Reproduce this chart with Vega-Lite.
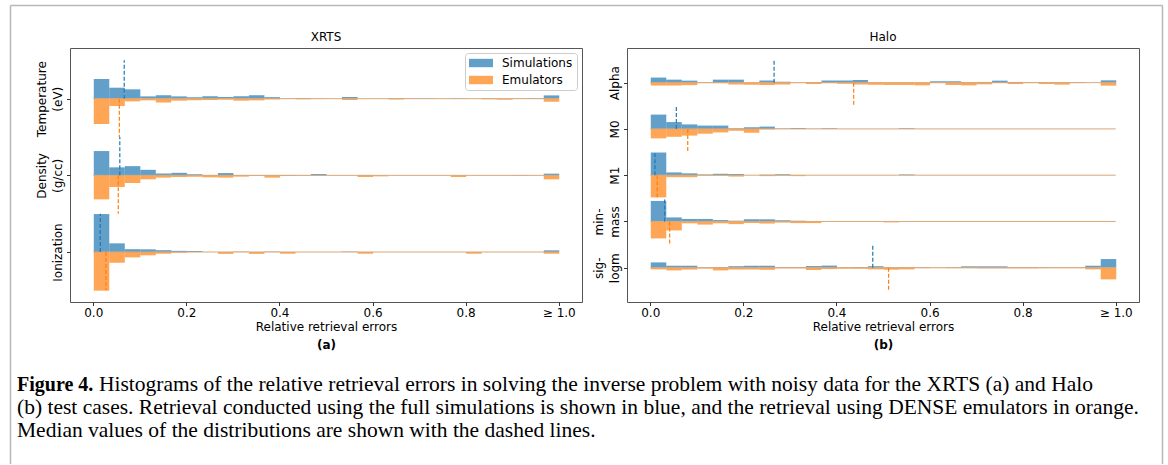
{
  "$schema": "https://vega.github.io/schema/vega-lite/v6.json",
  "background": "white",
  "padding": {"left": 9, "top": 5, "right": 0, "bottom": 0},
  "config": {
    "font": "DejaVu Sans",
    "view": {"stroke": "#555555", "strokeWidth": 1},
    "axis": {"grid": false, "domain": false, "tickColor": "#333333", "tickSize": 3.5, "tickWidth": 1, "labelFont": "DejaVu Sans", "labelFontSize": 12, "labelColor": "#000000", "titleFont": "DejaVu Sans", "titleFontSize": 12, "titleFontWeight": "normal", "titleColor": "#000000", "labelPadding": 2, "labelOverlap": false, "labelBound": false},
    "title": {"font": "DejaVu Sans", "fontSize": 12, "fontWeight": "normal", "color": "#000000", "offset": 4, "frame": "group"}
  },
  "datasets": {
    "xh": [
      {"p":"Temperature","b":0,"Simulations":0.257,"Emulators":0.33},
      {"p":"Temperature","b":0.0333,"Simulations":0.143,"Emulators":0.095},
      {"p":"Temperature","b":0.0667,"Simulations":0.122,"Emulators":0.035},
      {"p":"Temperature","b":0.1,"Simulations":0.03,"Emulators":0.022},
      {"p":"Temperature","b":0.1333,"Simulations":0.045,"Emulators":0.05},
      {"p":"Temperature","b":0.1667,"Simulations":0.03,"Emulators":0.026},
      {"p":"Temperature","b":0.2,"Simulations":0.02,"Emulators":0.022},
      {"p":"Temperature","b":0.2333,"Simulations":0.032,"Emulators":0.017},
      {"p":"Temperature","b":0.2667,"Simulations":0.022,"Emulators":0.013},
      {"p":"Temperature","b":0.3,"Simulations":0.032,"Emulators":0.026},
      {"p":"Temperature","b":0.3333,"Simulations":0.045,"Emulators":0.022},
      {"p":"Temperature","b":0.3667,"Simulations":0.02,"Emulators":0.01},
      {"p":"Temperature","b":0.4,"Simulations":0.005,"Emulators":0},
      {"p":"Temperature","b":0.4333,"Simulations":0.008,"Emulators":0.008},
      {"p":"Temperature","b":0.4667,"Simulations":0,"Emulators":0.005},
      {"p":"Temperature","b":0.5333,"Simulations":0.022,"Emulators":0.017},
      {"p":"Temperature","b":0.6333,"Simulations":0.008,"Emulators":0.01},
      {"p":"Temperature","b":0.6667,"Simulations":0.005,"Emulators":0},
      {"p":"Temperature","b":0.7,"Simulations":0.005,"Emulators":0},
      {"p":"Temperature","b":0.7667,"Simulations":0.005,"Emulators":0},
      {"p":"Temperature","b":0.8333,"Simulations":0.005,"Emulators":0.008},
      {"p":"Temperature","b":0.8667,"Simulations":0,"Emulators":0.013},
      {"p":"Temperature","b":0.9,"Simulations":0.005,"Emulators":0},
      {"p":"Temperature","b":0.9333,"Simulations":0.008,"Emulators":0},
      {"p":"Temperature","b":0.9667,"Simulations":0.043,"Emulators":0.04},
      {"p":"Density","b":0,"Simulations":0.317,"Emulators":0.313},
      {"p":"Density","b":0.0333,"Simulations":0.104,"Emulators":0.152},
      {"p":"Density","b":0.0667,"Simulations":0.12,"Emulators":0.1},
      {"p":"Density","b":0.1,"Simulations":0.072,"Emulators":0.052},
      {"p":"Density","b":0.1333,"Simulations":0.024,"Emulators":0.03},
      {"p":"Density","b":0.1667,"Simulations":0.033,"Emulators":0.022},
      {"p":"Density","b":0.2,"Simulations":0.013,"Emulators":0.017},
      {"p":"Density","b":0.2333,"Simulations":0.005,"Emulators":0.026},
      {"p":"Density","b":0.2667,"Simulations":0.03,"Emulators":0.03},
      {"p":"Density","b":0.3,"Simulations":0.005,"Emulators":0.017},
      {"p":"Density","b":0.3333,"Simulations":0.005,"Emulators":0.005},
      {"p":"Density","b":0.3667,"Simulations":0.005,"Emulators":0.03},
      {"p":"Density","b":0.4,"Simulations":0.005,"Emulators":0.009},
      {"p":"Density","b":0.4333,"Simulations":0.005,"Emulators":0},
      {"p":"Density","b":0.4667,"Simulations":0.017,"Emulators":0.005},
      {"p":"Density","b":0.5667,"Simulations":0.005,"Emulators":0.022},
      {"p":"Density","b":0.6,"Simulations":0,"Emulators":0.013},
      {"p":"Density","b":0.7667,"Simulations":0,"Emulators":0.022},
      {"p":"Density","b":0.9,"Simulations":0.005,"Emulators":0},
      {"p":"Density","b":0.9667,"Simulations":0.022,"Emulators":0.052},
      {"p":"Ionization","b":0,"Simulations":0.495,"Emulators":0.504},
      {"p":"Ionization","b":0.0333,"Simulations":0.113,"Emulators":0.14},
      {"p":"Ionization","b":0.0667,"Simulations":0.037,"Emulators":0.07},
      {"p":"Ionization","b":0.1,"Simulations":0.035,"Emulators":0.043},
      {"p":"Ionization","b":0.1333,"Simulations":0.024,"Emulators":0.022},
      {"p":"Ionization","b":0.1667,"Simulations":0.015,"Emulators":0.009},
      {"p":"Ionization","b":0.2,"Simulations":0.013,"Emulators":0},
      {"p":"Ionization","b":0.2667,"Simulations":0,"Emulators":0.024},
      {"p":"Ionization","b":0.3,"Simulations":0.005,"Emulators":0},
      {"p":"Ionization","b":0.3333,"Simulations":0,"Emulators":0.024},
      {"p":"Ionization","b":0.3667,"Simulations":0.005,"Emulators":0},
      {"p":"Ionization","b":0.4,"Simulations":0,"Emulators":0.022},
      {"p":"Ionization","b":0.5333,"Simulations":0.005,"Emulators":0},
      {"p":"Ionization","b":0.5667,"Simulations":0,"Emulators":0.022},
      {"p":"Ionization","b":0.8,"Simulations":0,"Emulators":0.022},
      {"p":"Ionization","b":0.9667,"Simulations":0.022,"Emulators":0.022}
    ],
    "xm": [
      {"p":"Temperature","Simulations":0.0665,"Emulators":0.056},
      {"p":"Density","Simulations":0.057,"Emulators":0.0537},
      {"p":"Ionization","Simulations":0.015,"Emulators":0.0273}
    ],
    "hh": [
      {"p":"Alpha","b":0,"Simulations":0.11,"Emulators":0.062},
      {"p":"Alpha","b":0.0333,"Simulations":0.065,"Emulators":0.062},
      {"p":"Alpha","b":0.0667,"Simulations":0.043,"Emulators":0.054},
      {"p":"Alpha","b":0.1,"Simulations":0.01,"Emulators":0.01},
      {"p":"Alpha","b":0.1333,"Simulations":0.065,"Emulators":0.012},
      {"p":"Alpha","b":0.1667,"Simulations":0.065,"Emulators":0.04},
      {"p":"Alpha","b":0.2,"Simulations":0,"Emulators":0.046},
      {"p":"Alpha","b":0.2333,"Simulations":0.046,"Emulators":0.05},
      {"p":"Alpha","b":0.2667,"Simulations":0.02,"Emulators":0.04},
      {"p":"Alpha","b":0.3,"Simulations":0,"Emulators":0.01},
      {"p":"Alpha","b":0.3333,"Simulations":0.01,"Emulators":0.03},
      {"p":"Alpha","b":0.3667,"Simulations":0.046,"Emulators":0.012},
      {"p":"Alpha","b":0.4,"Simulations":0.046,"Emulators":0.025},
      {"p":"Alpha","b":0.4333,"Simulations":0.058,"Emulators":0.04},
      {"p":"Alpha","b":0.4667,"Simulations":0.005,"Emulators":0.046},
      {"p":"Alpha","b":0.5,"Simulations":0,"Emulators":0.05},
      {"p":"Alpha","b":0.5333,"Simulations":0,"Emulators":0.05},
      {"p":"Alpha","b":0.5667,"Simulations":0,"Emulators":0.058},
      {"p":"Alpha","b":0.6,"Simulations":0.03,"Emulators":0.01},
      {"p":"Alpha","b":0.6333,"Simulations":0.03,"Emulators":0.05},
      {"p":"Alpha","b":0.6667,"Simulations":0.01,"Emulators":0.058},
      {"p":"Alpha","b":0.7,"Simulations":0.015,"Emulators":0.036},
      {"p":"Alpha","b":0.7333,"Simulations":0.043,"Emulators":0.01},
      {"p":"Alpha","b":0.7667,"Simulations":0.015,"Emulators":0.03},
      {"p":"Alpha","b":0.8,"Simulations":0.01,"Emulators":0.01},
      {"p":"Alpha","b":0.8333,"Simulations":0.01,"Emulators":0.03},
      {"p":"Alpha","b":0.8667,"Simulations":0.01,"Emulators":0.043},
      {"p":"Alpha","b":0.9,"Simulations":0.01,"Emulators":0.01},
      {"p":"Alpha","b":0.9667,"Simulations":0.05,"Emulators":0.065},
      {"p":"M0","b":0,"Simulations":0.31,"Emulators":0.205},
      {"p":"M0","b":0.0333,"Simulations":0.148,"Emulators":0.17},
      {"p":"M0","b":0.0667,"Simulations":0.097,"Emulators":0.144},
      {"p":"M0","b":0.1,"Simulations":0.072,"Emulators":0.104},
      {"p":"M0","b":0.1333,"Simulations":0.072,"Emulators":0.076},
      {"p":"M0","b":0.1667,"Simulations":0.012,"Emulators":0.04},
      {"p":"M0","b":0.2,"Simulations":0.036,"Emulators":0.083},
      {"p":"M0","b":0.2333,"Simulations":0.05,"Emulators":0.01},
      {"p":"M0","b":0.2667,"Simulations":0.01,"Emulators":0},
      {"p":"M0","b":0.3,"Simulations":0.02,"Emulators":0},
      {"p":"M0","b":0.3333,"Simulations":0.005,"Emulators":0},
      {"p":"M0","b":0.3667,"Simulations":0.015,"Emulators":0},
      {"p":"M0","b":0.5333,"Simulations":0.015,"Emulators":0},
      {"p":"M1","b":0,"Simulations":0.49,"Emulators":0.48},
      {"p":"M1","b":0.0333,"Simulations":0.06,"Emulators":0.043},
      {"p":"M1","b":0.0667,"Simulations":0.04,"Emulators":0.043},
      {"p":"M1","b":0.1,"Simulations":0.015,"Emulators":0.01},
      {"p":"M1","b":0.1333,"Simulations":0.03,"Emulators":0.01},
      {"p":"M1","b":0.1667,"Simulations":0.026,"Emulators":0.03},
      {"p":"M1","b":0.2333,"Simulations":0.01,"Emulators":0.02},
      {"p":"M1","b":0.2667,"Simulations":0.02,"Emulators":0.01},
      {"p":"M1","b":0.3,"Simulations":0,"Emulators":0.02},
      {"p":"M1","b":0.5333,"Simulations":0.015,"Emulators":0},
      {"p":"min-mass","b":0,"Simulations":0.443,"Emulators":0.367},
      {"p":"min-mass","b":0.0333,"Simulations":0.087,"Emulators":0.194},
      {"p":"min-mass","b":0.0667,"Simulations":0.054,"Emulators":0.04},
      {"p":"min-mass","b":0.1,"Simulations":0.054,"Emulators":0.068},
      {"p":"min-mass","b":0.1333,"Simulations":0.03,"Emulators":0.04},
      {"p":"min-mass","b":0.1667,"Simulations":0.015,"Emulators":0.058},
      {"p":"min-mass","b":0.2,"Simulations":0.046,"Emulators":0.036},
      {"p":"min-mass","b":0.2333,"Simulations":0.046,"Emulators":0.046},
      {"p":"min-mass","b":0.2667,"Simulations":0.026,"Emulators":0.025},
      {"p":"min-mass","b":0.3,"Simulations":0.015,"Emulators":0.036},
      {"p":"min-mass","b":0.3333,"Simulations":0.007,"Emulators":0.036},
      {"p":"min-mass","b":0.5,"Simulations":0,"Emulators":0.02},
      {"p":"sig-logm","b":0,"Simulations":0.115,"Emulators":0.036},
      {"p":"sig-logm","b":0.0333,"Simulations":0.043,"Emulators":0.058},
      {"p":"sig-logm","b":0.0667,"Simulations":0.043,"Emulators":0.04},
      {"p":"sig-logm","b":0.1,"Simulations":0.008,"Emulators":0.02},
      {"p":"sig-logm","b":0.1333,"Simulations":0.015,"Emulators":0.058},
      {"p":"sig-logm","b":0.1667,"Simulations":0.033,"Emulators":0.04},
      {"p":"sig-logm","b":0.2,"Simulations":0.043,"Emulators":0.036},
      {"p":"sig-logm","b":0.2333,"Simulations":0.043,"Emulators":0.046},
      {"p":"sig-logm","b":0.2667,"Simulations":0.015,"Emulators":0.015},
      {"p":"sig-logm","b":0.3,"Simulations":0.015,"Emulators":0.015},
      {"p":"sig-logm","b":0.3333,"Simulations":0.036,"Emulators":0.05},
      {"p":"sig-logm","b":0.3667,"Simulations":0.046,"Emulators":0.03},
      {"p":"sig-logm","b":0.4,"Simulations":0.008,"Emulators":0.022},
      {"p":"sig-logm","b":0.4333,"Simulations":0.015,"Emulators":0.022},
      {"p":"sig-logm","b":0.4667,"Simulations":0.033,"Emulators":0.036},
      {"p":"sig-logm","b":0.5,"Simulations":0.01,"Emulators":0.043},
      {"p":"sig-logm","b":0.5333,"Simulations":0.01,"Emulators":0.036},
      {"p":"sig-logm","b":0.5667,"Simulations":0.01,"Emulators":0.01},
      {"p":"sig-logm","b":0.6,"Simulations":0,"Emulators":0.008},
      {"p":"sig-logm","b":0.6333,"Simulations":0.01,"Emulators":0.01},
      {"p":"sig-logm","b":0.6667,"Simulations":0.03,"Emulators":0.01},
      {"p":"sig-logm","b":0.7,"Simulations":0.03,"Emulators":0.015},
      {"p":"sig-logm","b":0.7333,"Simulations":0.03,"Emulators":0.015},
      {"p":"sig-logm","b":0.7667,"Simulations":0.01,"Emulators":0.015},
      {"p":"sig-logm","b":0.8,"Simulations":0.01,"Emulators":0.015},
      {"p":"sig-logm","b":0.8333,"Simulations":0.01,"Emulators":0.01},
      {"p":"sig-logm","b":0.8667,"Simulations":0.008,"Emulators":0.01},
      {"p":"sig-logm","b":0.9,"Simulations":0.008,"Emulators":0.01},
      {"p":"sig-logm","b":0.9333,"Simulations":0.043,"Emulators":0.036},
      {"p":"sig-logm","b":0.9667,"Simulations":0.187,"Emulators":0.252}
    ],
    "hm": [
      {"p":"Alpha","Simulations":0.266,"Emulators":0.437},
      {"p":"M0","Simulations":0.056,"Emulators":0.0805},
      {"p":"M1","Simulations":0.0101,"Emulators":0.015},
      {"p":"min-mass","Simulations":0.031,"Emulators":0.0417},
      {"p":"sig-logm","Simulations":0.478,"Emulators":0.512}
    ],
    "cap": [
      {"line":1,"seg":"b","t":"Figure 4."},
      {"line":1,"seg":"r1","t":"Histograms of the relative retrieval errors in solving the inverse problem with noisy data for the XRTS (a) and Halo"},
      {"line":2,"seg":"r","t":"(b) test cases. Retrieval conducted using the full simulations is shown in blue, and the retrieval using DENSE emulators in orange."},
      {"line":3,"seg":"r","t":"Median values of the distributions are shown with the dashed lines."}
    ]
  },
  "concat": [
    {
      "width": 1152,
      "height": 459,
      "view": {"stroke": null},
      "data": {"values": [{"v": 0}]},
      "resolve": {"axis": {"y": "independent"}},
      "layer": [
        {
          "mark": {"type": "point", "size": 0, "opacity": 0},
          "encoding": {
            "x": {"field": "v", "type": "quantitative", "scale": {"domain": [-1, 1]}, "axis": {"orient": "top", "position": -60, "domain": true, "domainColor": "#b8b8b8", "domainWidth": 1.5, "ticks": false, "labels": false, "title": null}},
            "y": {"field": "v", "type": "quantitative", "scale": {"domain": [-1, 1]}, "axis": {"orient": "left", "offset": 60, "domain": true, "domainColor": "#b8b8b8", "domainWidth": 1.5, "ticks": false, "labels": false, "title": null}}
          }
        },
        {
          "mark": {"type": "point", "size": 0, "opacity": 0},
          "encoding": {
            "y": {"field": "v", "type": "quantitative", "axis": {"orient": "right", "offset": -60, "domain": true, "domainColor": "#b8b8b8", "domainWidth": 1.5, "ticks": false, "labels": false, "title": null}}
          }
        }
      ]
    },
    {
      "concat": [
        {
          "hconcat": [
            {
              "width": 512,
              "height": 254,
              "title": {"text": "XRTS"},
              "resolve": {"axis": {"x": "independent", "y": "independent"}},
              "layer": [
                {
                  "data": {"name": "xh"},
                  "transform": [
                    {"fold": ["Simulations", "Emulators"], "as": ["s", "v"]},
                    {"filter": "datum.v > 0"},
                    {"calculate": "-indexof(['Temperature','Density','Ionization'], datum.p)", "as": "base"},
                    {"calculate": "datum.base + (datum.s == 'Simulations' ? datum.v : -datum.v)", "as": "top"}
                  ],
                  "mark": {"type": "bar", "opacity": 0.7, "binSpacing": 0},
                  "encoding": {
                    "x": {"field": "b", "type": "quantitative", "bin": {"binned": true, "step": 0.0333333},
                      "scale": {"domain": [-0.05, 1.05], "nice": false, "zero": false},
                      "axis": {"values": [0, 0.2, 0.4, 0.6, 0.8, 1], "labelExpr": "datum.value >= 0.999 ? '≥ 1.0' : format(datum.value, '.1f')", "title": "Relative retrieval errors", "titlePadding": 3}},
                    "y": {"field": "top", "type": "quantitative",
                      "scale": {"domain": [-2.652, 0.661], "nice": false, "zero": false},
                      "axis": {"orient": "left", "values": [-2, -1, 0], "labelExpr": "datum.value == 0 ? '(eV)' : datum.value == -1 ? '(g/cc)' : 'Ionization'", "labelAngle": 270, "labelAlign": "center", "labelBaseline": "bottom", "title": null}},
                    "y2": {"field": "base"},
                    "color": {"field": "s", "type": "nominal",
                      "scale": {"domain": ["Simulations", "Emulators"], "range": ["#1f77b4", "#ff7f0e"]},
                      "legend": {"title": null, "orient": "top-right", "offset": 5, "padding": 4, "fillColor": "rgba(255,255,255,0.8)", "strokeColor": "#cccccc", "cornerRadius": 3, "symbolType": "M-1,-0.7H3V0.7H-1Z", "symbolSize": 144, "symbolOpacity": 0.7, "symbolStrokeWidth": 0, "labelFontSize": 12, "labelFont": "DejaVu Sans", "labelColor": "#000000", "labelOffset": 21, "rowPadding": 5}}
                  }
                },
                {
                  "data": {"name": "xm"},
                  "transform": [
                    {"calculate": "-indexof(['Temperature','Density','Ionization'], datum.p)", "as": "base"}
                  ],
                  "mark": {"type": "rule", "color": "#d8a878", "strokeWidth": 1},
                  "encoding": {
                    "x": {"datum": 0, "type": "quantitative", "axis": null},
                    "x2": {"datum": 1},
                    "y": {"field": "base", "type": "quantitative",
                      "axis": {"orient": "left", "values": [-1, 0], "labelExpr": "datum.value == 0 ? 'Temperature' : 'Density'", "labelAngle": 270, "labelAlign": "center", "labelBaseline": "bottom", "labelPadding": 18, "tickOpacity": 0, "title": " ", "titleAngle": 0, "titleAlign": "left", "titleBaseline": "middle", "titleX": -60, "titleY": 127}}
                  }
                },
                {
                  "data": {"name": "xm"},
                  "transform": [
                    {"calculate": "-indexof(['Temperature','Density','Ionization'], datum.p)", "as": "base"},
                    {"fold": ["Simulations", "Emulators"], "as": ["s", "m"]},
                    {"calculate": "datum.base + (datum.s == 'Simulations' ? 0.5 : -0.5)", "as": "end"}
                  ],
                  "mark": {"type": "rule", "strokeWidth": 1.2, "strokeDash": [4, 2]},
                  "encoding": {
                    "x": {"field": "m", "type": "quantitative", "axis": {"title": "(a)", "titleFontWeight": "bold", "labels": false, "ticks": false, "domain": false, "titleY": 296, "titleBaseline": "middle"}},
                    "y": {"field": "base", "type": "quantitative", "axis": null},
                    "y2": {"field": "end"},
                    "stroke": {"field": "s", "type": "nominal", "scale": {"domain": ["Simulations", "Emulators"], "range": ["#1f77b4", "#ff7f0e"]}, "legend": null}
                  }
                }
              ]
            },
            {
              "width": 512,
              "height": 254,
              "title": {"text": "Halo"},
              "resolve": {"axis": {"x": "independent", "y": "independent"}},
              "layer": [
                {
                  "data": {"name": "hh"},
                  "transform": [
                    {"fold": ["Simulations", "Emulators"], "as": ["s", "v"]},
                    {"filter": "datum.v > 0"},
                    {"calculate": "-indexof(['Alpha','M0','M1','min-mass','sig-logm'], datum.p)", "as": "base"},
                    {"calculate": "datum.base + (datum.s == 'Simulations' ? datum.v : -datum.v)", "as": "top"}
                  ],
                  "mark": {"type": "bar", "opacity": 0.7, "binSpacing": 0},
                  "encoding": {
                    "x": {"field": "b", "type": "quantitative", "bin": {"binned": true, "step": 0.0333333},
                      "scale": {"domain": [-0.05, 1.05], "nice": false, "zero": false},
                      "axis": {"values": [0, 0.2, 0.4, 0.6, 0.8, 1], "labelExpr": "datum.value >= 0.999 ? '≥ 1.0' : format(datum.value, '.1f')", "title": "Relative retrieval errors", "titlePadding": 3}},
                    "y": {"field": "top", "type": "quantitative",
                      "scale": {"domain": [-4.741, 0.749], "nice": false, "zero": false},
                      "axis": {"orient": "left", "values": [-4, -3, -2, -1, 0], "labelExpr": "datum.value == 0 ? 'Alpha' : datum.value == -1 ? 'M0' : datum.value == -2 ? 'M1' : datum.value == -3 ? 'mass' : 'logm'", "labelAngle": 270, "labelAlign": "center", "labelBaseline": "bottom", "title": null}},
                    "y2": {"field": "base"},
                    "color": {"field": "s", "type": "nominal",
                      "scale": {"domain": ["Simulations", "Emulators"], "range": ["#1f77b4", "#ff7f0e"]},
                      "legend": null}
                  }
                },
                {
                  "data": {"name": "hm"},
                  "transform": [
                    {"calculate": "-indexof(['Alpha','M0','M1','min-mass','sig-logm'], datum.p)", "as": "base"}
                  ],
                  "mark": {"type": "rule", "color": "#d8a878", "strokeWidth": 1},
                  "encoding": {
                    "x": {"datum": 0, "type": "quantitative", "axis": null},
                    "x2": {"datum": 1},
                    "y": {"field": "base", "type": "quantitative",
                      "axis": {"orient": "left", "values": [-4, -3], "labelExpr": "datum.value == -3 ? 'min-' : 'sig-'", "labelAngle": 270, "labelAlign": "center", "labelBaseline": "bottom", "labelPadding": 18, "tickOpacity": 0, "title": null}}
                  }
                },
                {
                  "data": {"name": "hm"},
                  "transform": [
                    {"calculate": "-indexof(['Alpha','M0','M1','min-mass','sig-logm'], datum.p)", "as": "base"},
                    {"fold": ["Simulations", "Emulators"], "as": ["s", "m"]},
                    {"calculate": "datum.base + (datum.s == 'Simulations' ? 0.5 : -0.5)", "as": "end"}
                  ],
                  "mark": {"type": "rule", "strokeWidth": 1.2, "strokeDash": [4, 2]},
                  "encoding": {
                    "x": {"field": "m", "type": "quantitative", "axis": {"title": "(b)", "titleFontWeight": "bold", "labels": false, "ticks": false, "domain": false, "titleY": 296, "titleBaseline": "middle"}},
                    "y": {"field": "base", "type": "quantitative", "axis": null},
                    "y2": {"field": "end"},
                    "stroke": {"field": "s", "type": "nominal", "scale": {"domain": ["Simulations", "Emulators"], "range": ["#1f77b4", "#ff7f0e"]}, "legend": null}
                  }
                }
              ]
            }
          ],
          "spacing": 9,
          "resolve": {"legend": {"color": "independent"}}
        },
        {
          "width": 1080,
          "height": 68,
          "view": {"stroke": null},
          "data": {"name": "cap"},
          "encoding": {
            "x": {"datum": 0, "type": "quantitative", "scale": {"domain": [0, 1]}, "axis": null},
            "y": {"field": "line", "type": "ordinal", "scale": {"type": "point", "padding": 0.5}, "axis": null},
            "text": {"field": "t"}
          },
          "layer": [
            {"transform": [{"filter": "datum.seg == 'b'"}], "mark": {"type": "text", "align": "left", "baseline": "middle", "font": "Liberation Serif", "fontSize": 20, "fontWeight": "bold", "color": "#000000", "dx": -53}},
            {"transform": [{"filter": "datum.seg == 'r1'"}], "mark": {"type": "text", "align": "left", "baseline": "middle", "font": "Liberation Serif", "fontSize": 21.5, "color": "#000000", "dx": 29}},
            {"transform": [{"filter": "datum.seg == 'r'"}], "mark": {"type": "text", "align": "left", "baseline": "middle", "font": "Liberation Serif", "fontSize": 21.5, "color": "#000000", "dx": -53}}
          ]
        }
      ],
      "columns": 1,
      "align": "none",
      "spacing": 23
    }
  ],
  "columns": 1,
  "align": "none",
  "spacing": -434
}
